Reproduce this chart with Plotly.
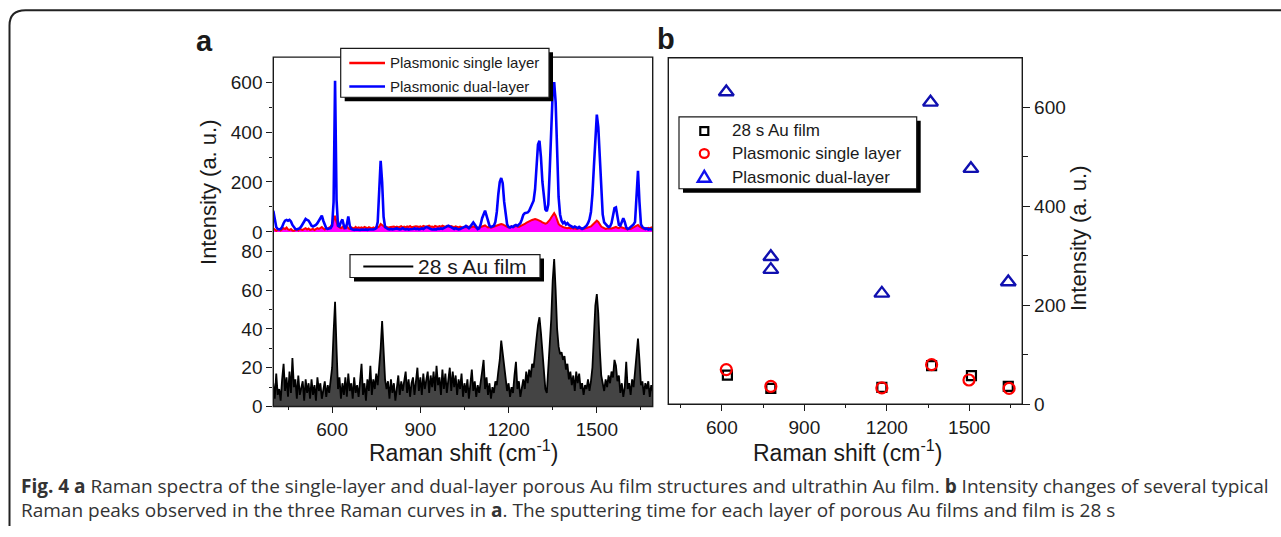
import plotly.graph_objects as go

W, H = 1281, 537

# ---------------- data ----------------
raman_shift = list(range(400, 1695, 5))

dual_layer = [
    85, 55, 20, 12, 10, 12, 20, 35, 45, 48, 45, 48, 42, 28, 18, 12, 10, 12, 15, 22,
    32, 45, 52, 48, 45, 35, 25, 22, 24, 28, 35, 45, 58, 65, 45, 25, 15, 12, 12, 15,
    25, 120, 605, 130, 25, 22, 40, 50, 25, 12, 30, 62, 25, 12, 10, 8, 10, 9, 10, 8,
    10, 8, 9, 10, 8, 10, 9, 11, 10, 12, 15, 40, 150, 285, 200, 60, 20, 15, 12, 10,
    12, 10, 12, 11, 14, 12, 10, 12, 15, 12, 10, 12, 9, 11, 10, 12, 14, 11, 13, 10,
    12, 14, 12, 16, 20, 18, 14, 12, 10, 12, 11, 10, 13, 12, 14, 12, 15, 18, 22, 25,
    22, 18, 14, 12, 15, 12, 10, 12, 14, 18, 20, 24, 18, 15, 22, 30, 38, 30, 18, 12,
    15, 30, 55, 75, 85, 65, 40, 25, 20, 22, 25, 40, 80, 150, 200, 216, 195, 120, 60, 30,
    20, 18, 22, 20, 25, 28, 24, 30, 35, 50, 68, 75, 76, 78, 85, 100, 115, 125, 170, 260,
    350, 365, 300, 200, 130, 90, 83, 110, 250, 430, 560, 600, 520, 330, 140, 70, 45, 35, 40, 30,
    35, 28, 25, 20, 18, 22, 18, 15, 20, 15, 12, 15, 20, 25, 35, 50, 80, 150, 260, 400,
    470, 420, 290, 160, 70, 38, 30, 25, 20, 22, 35, 70, 95, 98, 60, 28, 25, 40, 55, 40,
    18, 12, 14, 20, 25, 30, 40, 150, 245, 120, 30, 20, 15, 12, 14, 10, 12, 10, 12,
]

single_layer = [
    15, 10, 5, 8, 12, 6, 10, 15, 12, 18, 10, 8, 12, 6, 5, 8, 10, 6, 12, 10,
    8, 12, 15, 10, 14, 8, 10, 12, 8, 10, 15, 12, 18, 20, 14, 10, 15, 12, 18, 22,
    30, 45, 65, 40, 22, 18, 15, 20, 14, 18, 22, 15, 12, 18, 15, 14, 20, 15, 18, 16,
    18, 15, 20, 17, 15, 19, 16, 14, 18, 15, 20, 18, 22, 32, 28, 24, 18, 20, 17, 19,
    20, 18, 22, 19, 21, 18, 20, 23, 19, 21, 18, 22, 20, 24, 19, 21, 20, 23, 22, 20,
    22, 19, 24, 21, 20, 23, 25, 21, 22, 19, 24, 22, 20, 23, 21, 25, 22, 20, 24, 22,
    20, 23, 21, 19, 22, 20, 18, 21, 19, 17, 20, 18, 22, 19, 17, 20, 22, 19, 16, 18,
    17, 20, 22, 24, 26, 22, 18, 20, 17, 19, 22, 24, 26, 28, 30, 32, 30, 26, 22, 20,
    18, 20, 22, 19, 21, 24, 22, 20, 23, 25, 28, 32, 36, 40, 42, 45, 48, 50, 52, 50,
    48, 46, 42, 38, 35, 33, 35, 40, 48, 58, 68, 75, 65, 45, 32, 26, 22, 20, 18, 16,
    15, 17, 14, 16, 13, 15, 12, 14, 16, 13, 15, 12, 14, 16, 18, 20, 22, 28, 35, 42,
    45, 40, 30, 22, 18, 15, 12, 14, 13, 12, 14, 16, 18, 20, 17, 15, 20, 18, 14, 12,
    12, 10, 14, 12, 15, 18, 22, 26, 28, 22, 16, 14, 12, 15, 13, 16, 14, 18, 15,
]

au_film = [
    12, 4, 17, 6, 9, 3, 14, 22, 8, 15, 5, 18, 7, 25, 10, 14, 4, 16, 6, 9,
    13, 3, 14, 7, 12, 4, 14, 6, 11, 3, 15, 8, 12, 4, 9, 13, 5, 11, 7, 14,
    20, 38, 54, 30, 9, 15, 4, 12, 6, 15, 5, 17, 8, 12, 4, 15, 7, 11, 5, 13,
    22, 6, 12, 3, 14, 8, 21, 6, 14, 9, 17, 11, 19, 30, 44, 26, 14, 9, 13, 4,
    14, 7, 12, 3, 11, 16, 6, 13, 8, 12, 18, 7, 14, 5, 12, 15, 6, 13, 20, 8,
    15, 6, 17, 9, 13, 18, 7, 16, 10, 18, 8, 21, 11, 15, 6, 19, 9, 17, 7, 15,
    20, 8, 18, 10, 16, 6, 14, 9, 17, 5, 12, 7, 14, 4, 10, 19, 8, 13, 5, 11,
    7, 14, 18, 24, 9, 15, 6, 12, 4, 10, 7, 13, 11, 18, 24, 34, 27, 20, 14, 8,
    12, 5, 10, 7, 16, 23, 9, 13, 5, 11, 14, 9, 18, 12, 19, 15, 22, 20, 30, 35,
    42, 46, 38, 28, 18, 9, 7, 20, 30, 45, 65, 76, 60, 40, 31, 27, 28, 24, 26, 19,
    22, 14, 18, 11, 16, 8, 18, 12, 17, 9, 12, 6, 11, 9, 14, 8, 13, 20, 36, 52,
    58, 48, 30, 16, 12, 8, 14, 10, 16, 12, 18, 15, 24, 21, 13, 16, 7, 12, 5, 10,
    23, 9, 12, 6, 14, 10, 18, 28, 35, 24, 11, 13, 6, 12, 9, 13, 5, 11, 8,
]

# panel b: peak intensities
au_peak_x = [620, 778, 1182, 1363, 1508, 1642]
au_peak_y = [59, 32, 34, 78, 58, 36]
single_peak_x = [616, 778, 1182, 1363, 1499, 1645]
single_peak_y = [70, 36, 33, 80, 49, 32]
dual_peak_x = [616, 778, 778, 1182, 1359, 1506, 1642]
dual_peak_y = [631, 298, 272, 224, 610, 476, 247]

x_ticks = [600, 900, 1200, 1500]
name_au = "28 s Au film"
name_single = "Plasmonic single layer"
name_dual = "Plasmonic dual-layer"


def fx(p):
    return p / W


def fy(p):
    return 1 - p / H


FONT = "Arial, Liberation Sans, sans-serif"
INK = "#1a1a1a"

# layout geometry (pixels)
A_L, A_R = 273.3, 652.7
A_TOP, A_MID, A_BOT = 58.3, 236.8, 415.0
B_L, B_R, B_TOP, B_BOT = 668.3, 1022.3, 59.0, 412.7

fig = go.Figure()

# panel a, top: single layer (filled) and dual layer
fig.add_trace(go.Scatter(x=raman_shift, y=single_layer, mode="lines", name=name_single,
                         line=dict(color="#ff0000", width=2), fill="tozeroy",
                         fillcolor="#ff00ff", xaxis="x2", yaxis="y2", showlegend=False))
fig.add_trace(go.Scatter(x=raman_shift, y=dual_layer, mode="lines", name=name_dual,
                         line=dict(color="#0000ff", width=2.6), xaxis="x2", yaxis="y2",
                         showlegend=False))
# panel a, bottom: Au film
fig.add_trace(go.Scatter(x=raman_shift, y=au_film, mode="lines", name=name_au,
                         line=dict(color="#000000", width=1.8), fill="tozeroy",
                         fillcolor="#444444", xaxis="x", yaxis="y", showlegend=False))
# panel b
fig.add_trace(go.Scatter(x=au_peak_x, y=au_peak_y, mode="markers", name=name_au,
                         marker=dict(symbol="square-open", size=9, color="#000000",
                                     line=dict(width=2.2)),
                         xaxis="x3", yaxis="y3", showlegend=False))
fig.add_trace(go.Scatter(x=single_peak_x, y=single_peak_y, mode="markers", name=name_single,
                         marker=dict(symbol="circle-open", size=11, color="#ff0000",
                                     line=dict(width=2.2)),
                         xaxis="x3", yaxis="y3", showlegend=False))
fig.add_trace(go.Scatter(x=dual_peak_x, y=dual_peak_y, mode="markers", name=name_dual,
                         marker=dict(symbol="triangle-up-open", size=13, color="#1010b0",
                                     line=dict(width=2.4)),
                         xaxis="x3", yaxis="y3", showlegend=False))

tickfont = dict(family=FONT, size=19, color=INK)
common_x = dict(range=[400, 1690], showgrid=False, zeroline=False, showline=False)

fig.update_layout(
    width=W, height=H, margin=dict(l=0, r=0, t=0, b=0),
    paper_bgcolor="white", plot_bgcolor="white", showlegend=False,
    xaxis=dict(domain=[fx(A_L), fx(A_R)], anchor="y", tickvals=x_ticks,
               ticks="outside", ticklen=6, tickwidth=1.4, tickcolor=INK,
               minor=dict(ticks="outside", ticklen=3, tickwidth=1.2, tickcolor=INK,
                          tickvals=[450, 750, 1050, 1350, 1650]),
               tickfont=tickfont, **common_x),
    yaxis=dict(domain=[fy(A_BOT), fy(A_MID)], anchor="x", range=[0, 90],
               tickvals=[0, 20, 40, 60, 80], ticks="outside", ticklen=6, tickwidth=1.4,
               tickcolor=INK, minor=dict(ticks="outside", ticklen=3, tickwidth=1.2,
                                         tickcolor=INK, tickvals=[10, 30, 50, 70]),
               tickfont=tickfont, showgrid=False, zeroline=False, showline=False),
    xaxis2=dict(domain=[fx(A_L), fx(A_R)], anchor="y2", showticklabels=False, ticks="",
                **common_x),
    yaxis2=dict(domain=[fy(A_MID), fy(A_TOP)], anchor="x2", range=[0, 700],
                tickvals=[0, 200, 400, 600], ticks="outside", ticklen=6, tickwidth=1.4,
                tickcolor=INK, minor=dict(ticks="outside", ticklen=3, tickwidth=1.2,
                                          tickcolor=INK, tickvals=[100, 300, 500]),
                tickfont=tickfont, showgrid=False, zeroline=False, showline=False),
    xaxis3=dict(domain=[fx(B_L), fx(B_R)], anchor="y3", range=[405, 1693],
                tickvals=x_ticks, ticks="outside", ticklen=6, tickwidth=1.4, tickcolor=INK,
                minor=dict(ticks="outside", ticklen=3, tickwidth=1.2, tickcolor=INK,
                           tickvals=[450, 750, 1050, 1350, 1650]),
                tickfont=tickfont, showgrid=False, zeroline=False, showline=False),
    yaxis3=dict(domain=[fy(B_BOT), fy(B_TOP)], anchor="x3", side="right", range=[0, 700],
                tickvals=[0, 200, 400, 600], ticks="outside", ticklen=7, tickwidth=1.4,
                tickcolor=INK, minor=dict(ticks="outside", ticklen=5, tickwidth=1.2,
                                          tickcolor=INK, tickvals=[100, 300, 500]),
                tickfont=tickfont, showgrid=False, zeroline=False, showline=False),
)

shapes = []
ann = []


def rect(x0, y0, x1, y1, line_color=INK, width=1.4, fill=None):
    d = dict(type="rect", xref="paper", yref="paper", x0=fx(x0), x1=fx(x1),
             y0=fy(y1), y1=fy(y0), line=dict(color=line_color, width=width), layer="above")
    if fill:
        d["fillcolor"] = fill
    if width == 0:
        d["line"] = dict(width=0)
    return d


def hline(x0, x1, y, color, width):
    return dict(type="line", xref="paper", yref="paper", x0=fx(x0), x1=fx(x1),
                y0=fy(y), y1=fy(y), line=dict(color=color, width=width), layer="above")


def text(x, y, s, size, xanchor="left", color=INK, family=FONT, angle=0, yanchor="middle"):
    return dict(xref="paper", yref="paper", x=fx(x), y=fy(y), text=s, showarrow=False,
                xanchor=xanchor, yanchor=yanchor, textangle=angle,
                font=dict(family=family, size=size, color=color))


# frames
shapes.append(rect(A_L, A_TOP, A_R, A_BOT))
shapes.append(rect(B_L, B_TOP, B_R, B_BOT))

# legend of panel a (top)
shapes.append(rect(344.7, 53.3, 553, 103.3, width=0, fill="#000000"))
shapes.append(rect(340.7, 49.3, 549, 99.3, line_color=INK, width=1.2, fill="#ffffff"))
shapes.append(hline(349.3, 385, 64.3, "#ff0000", 2.6))
shapes.append(hline(349.3, 385, 88.3, "#0000ff", 2.6))
ann.append(text(387.5, 64.3, name_single, 15))
ann.append(text(387.5, 88.3, name_dual, 15))

# legend of panel a (bottom)
shapes.append(rect(354, 264, 544, 287.3, width=0, fill="#000000"))
shapes.append(rect(350, 260, 540, 283.3, line_color=INK, width=1.2, fill="#ffffff"))
shapes.append(hline(363.3, 413.3, 272.0, "#000000", 2))
ann.append(text(416.5, 272.0, name_au, 21))

# legend of panel b
shapes.append(rect(683, 123.3, 920.7, 196.7, width=0, fill="#000000"))
shapes.append(rect(679, 119.3, 916.7, 192.7, line_color=INK, width=1.2, fill="#ffffff"))
mx = 704.3
shapes.append(dict(type="rect", xref="paper", yref="paper", x0=fx(mx - 4), x1=fx(mx + 4),
                   y0=fy(133.8 + 4), y1=fy(133.8 - 4), line=dict(color="#000000", width=2.2),
                   layer="above"))
shapes.append(dict(type="circle", xref="paper", yref="paper", x0=fx(mx - 4.5), x1=fx(mx + 4.5),
                   y0=fy(156.7 + 4.5), y1=fy(156.7 - 4.5), line=dict(color="#ff0000", width=2.2),
                   layer="above"))
tri = "M {:.5f},{:.5f} L {:.5f},{:.5f} L {:.5f},{:.5f} Z".format(
    fx(mx), fy(174.5), fx(mx - 6.5), fy(185.5), fx(mx + 6.5), fy(185.5))
shapes.append(dict(type="path", xref="paper", yref="paper", path=tri,
                   line=dict(color="#1010ee", width=2.4), layer="above"))
ann.append(text(729.5, 133.5, name_au, 17))
ann.append(text(729.5, 157.0, name_single, 17))
ann.append(text(729.5, 181.0, name_dual, 17))

# panel labels
ann.append(text(204, 42, "<b>a</b>", 29, xanchor="center"))
ann.append(text(666, 40, "<b>b</b>", 29, xanchor="center"))

# axis titles
ann.append(text(463, 460, "Raman shift (cm<sup>-1</sup>)", 23, xanchor="center"))
ann.append(text(847, 460, "Raman shift (cm<sup>-1</sup>)", 23, xanchor="center"))
ann.append(text(209, 196, "Intensity (a. u.)", 22, xanchor="center", angle=-90))
ann.append(text(1078, 243, "Intensity (a. u.)", 22, xanchor="center", angle=-90))

# caption
CAP = "Open Sans, Noto Sans, sans-serif"
ann.append(text(19, 496, "<b>Fig. 4 a</b> Raman spectra of the single-layer and dual-layer porous Au "
                "film structures and ultrathin Au film. <b>b</b> Intensity changes of several typical",
                19, color="#333333", family=CAP))
ann.append(text(19, 521, "Raman peaks observed in the three Raman curves in <b>a</b>. The sputtering "
                "time for each layer of porous Au films and film is 28 s",
                19, color="#333333", family=CAP))

# outer border (top and left, rounded corner)
border = "M {:.5f},{:.5f} L {:.5f},{:.5f} Q {:.5f},{:.5f} {:.5f},{:.5f} L {:.5f},{:.5f}".format(
    fx(9.5), fy(537), fx(9.5), fy(26), fx(9.5), fy(10.5), fx(25.5), fy(10.5), fx(1281), fy(10.5))
shapes.append(dict(type="path", xref="paper", yref="paper", path=border,
                   line=dict(color="#222222", width=2)))

fig.update_layout(shapes=shapes, annotations=ann)
fig.write_html("out.html")
